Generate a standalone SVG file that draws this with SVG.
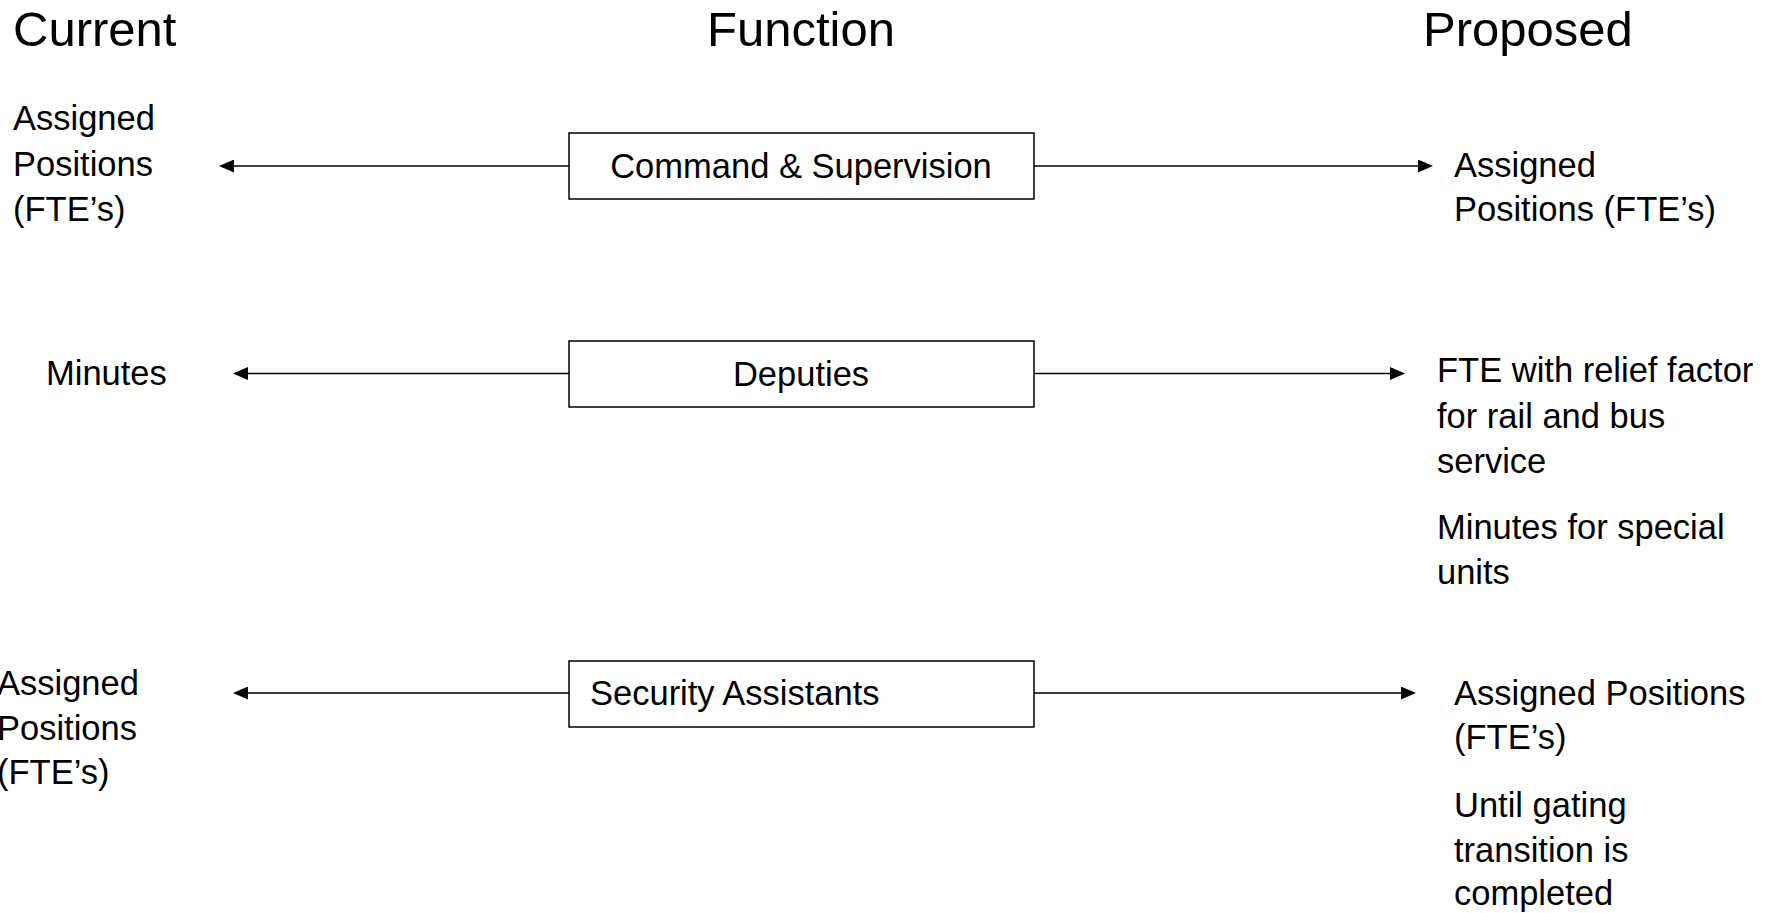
<svg xmlns="http://www.w3.org/2000/svg" width="1777" height="913" viewBox="0 0 1777 913">
  <style>
    .title { font-family: "Liberation Sans", Arial, sans-serif; font-size: 49px; fill: #000; }
    .label { font-family: "Liberation Sans", Arial, sans-serif; font-size: 34.5px; fill: #000; }
    .mid { text-anchor: middle; }
    .box { fill: #fff; stroke: #000; stroke-width: 1.5; }
    .conn { stroke: #000; stroke-width: 1.4; fill: none; marker-end: url(#head); }
  </style>
  <defs>
    <marker id="head" viewBox="0 0 15 13" refX="2" refY="6.5" markerWidth="15" markerHeight="13" markerUnits="userSpaceOnUse" orient="auto">
      <path d="M0,0 L15,6.5 L0,13 z" fill="#000"/>
    </marker>
  </defs>
  <rect width="1777" height="913" fill="#fff"/>

  <!-- column headings -->
  <g id="headings">
    <text class="title" x="13" y="46">Current</text>
    <text class="title mid" x="801" y="46">Function</text>
    <text class="title" x="1423" y="46">Proposed</text>
  </g>

  <!-- connectors: function boxes point out to current and proposed measures -->
  <g id="connectors">
    <line class="conn" x1="569" y1="166" x2="232" y2="166"/>
    <line class="conn" x1="1034" y1="166" x2="1420" y2="166"/>
    <line class="conn" x1="569" y1="373.5" x2="246" y2="373.5"/>
    <line class="conn" x1="1034" y1="373.5" x2="1392" y2="373.5"/>
    <line class="conn" x1="569" y1="693" x2="246" y2="693"/>
    <line class="conn" x1="1034" y1="693" x2="1403" y2="693"/>
  </g>

  <!-- row 1 -->
  <g id="command-supervision">
    <rect class="box" x="569" y="133" width="465" height="66"/>
    <text class="label mid" x="801" y="178">Command &amp; Supervision</text>
  </g>
  <g id="current-command">
    <text class="label" x="13" y="130">Assigned</text>
    <text class="label" x="13" y="176">Positions</text>
    <text class="label" x="13" y="221">(FTE’s)</text>
  </g>
  <g id="proposed-command">
    <text class="label" x="1454" y="177">Assigned</text>
    <text class="label" x="1454" y="221">Positions (FTE’s)</text>
  </g>

  <!-- row 2 -->
  <g id="deputies">
    <rect class="box" x="569" y="341" width="465" height="66"/>
    <text class="label mid" x="801" y="386">Deputies</text>
  </g>
  <g id="current-deputies">
    <text class="label" x="46" y="385">Minutes</text>
  </g>
  <g id="proposed-deputies">
    <text class="label" x="1437" y="382">FTE with relief factor</text>
    <text class="label" x="1437" y="428">for rail and bus</text>
    <text class="label" x="1437" y="473">service</text>
    <text class="label" x="1437" y="539">Minutes for special</text>
    <text class="label" x="1437" y="584">units</text>
  </g>

  <!-- row 3 -->
  <g id="security-assistants">
    <rect class="box" x="569" y="661" width="465" height="66"/>
    <text class="label" x="590" y="705">Security Assistants</text>
  </g>
  <g id="current-security">
    <text class="label" x="-3" y="695">Assigned</text>
    <text class="label" x="-3" y="740">Positions</text>
    <text class="label" x="-3" y="784">(FTE’s)</text>
  </g>
  <g id="proposed-security">
    <text class="label" x="1454" y="705">Assigned Positions</text>
    <text class="label" x="1454" y="749">(FTE’s)</text>
    <text class="label" x="1454" y="817">Until gating</text>
    <text class="label" x="1454" y="862">transition is</text>
    <text class="label" x="1454" y="905">completed</text>
  </g>
</svg>
